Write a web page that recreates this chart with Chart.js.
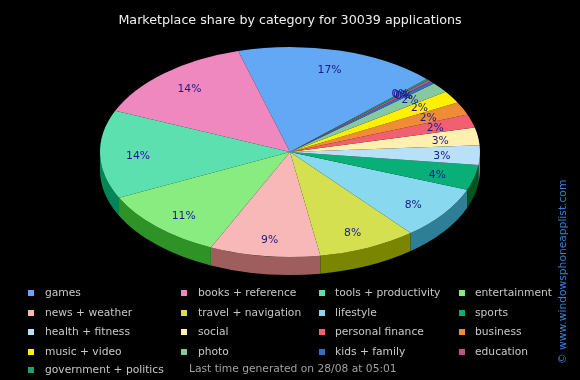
<!DOCTYPE html>
<html>
<head>
<meta charset="utf-8">
<script src="https://cdn.jsdelivr.net/npm/chart.js@4.4.0/dist/chart.umd.min.js"></script>
<style>
  body { margin: 0; background: #000; }
  #wrap { width: 580px; height: 380px; }
</style>
</head>
<body>
<div id="wrap"><canvas id="myChart"></canvas></div>
<script>
'use strict'

// Global variables:
const categories = [
  'games', 'books + reference', 'tools + productivity', 'entertainment',
  'news + weather', 'travel + navigation', 'lifestyle', 'sports',
  'health + fitness', 'social', 'personal finance', 'business',
  'music + video', 'photo', 'kids + family', 'education',
  'government + politics'
];
// share of apps per category (percent)
const shares = [17.2, 14.2, 13.6, 11.0, 9.4, 8.4, 8.2, 3.9, 3.0, 2.7, 2.1, 2.0, 1.9, 1.6, 0.4, 0.3, 0.2];
const sliceColors = [
  '#62a8f4', '#f088c0', '#5ce0b0', '#88ec80',
  '#f8b8b8', '#d4e050', '#88d8f0', '#08b078',
  '#b8e0f8', '#fff0b0', '#f06070', '#f08c38',
  '#fff000', '#88c8a0', '#3070c0', '#c05088',
  '#20a070'
];
const titleText = 'Marketplace share by category for 30039 applications';
const footerText = 'Last time generated on 28/08 at 05:01';
const creditText = '© www.windowsphoneapplist.com';

// where the flat pie sits on the page
const pieX = 290, pieY = 152, pieRX = 190, pieRY = 105, pieDepth = 18;
// ellipse the percent labels sit on
const labelY = 154, labelRX = 152, labelRY = 87;
const fontName = '"DejaVu Sans", Verdana, sans-serif';

function darker(hex, amount) {
  let n = parseInt(hex.slice(1), 16);
  let r = Math.max(0, ((n >> 16) & 255) - amount);
  let g = Math.max(0, ((n >> 8) & 255) - amount);
  let b = Math.max(0, (n & 255) - amount);
  return `rgb(${r},${g},${b})`;
}

const pie3d = {
  id: 'pie3d',
  beforeDatasetsDraw(chart) {
    const ctx = chart.ctx;
    const arcs = chart.getDatasetMeta(0).data;
    // side wall, only the front half shows
    arcs.forEach((arc, i) => {
      let a1 = Math.PI - arc.endAngle;
      let a2 = Math.PI - arc.startAngle;
      for (let k = -2; k <= 2; k++) {
        let lo = Math.max(a1, 2 * Math.PI * k);
        let hi = Math.min(a2, 2 * Math.PI * k + Math.PI);
        if (hi <= lo) continue;
        ctx.beginPath();
        ctx.ellipse(pieX, pieY, pieRX, pieRY, 0, lo, hi);
        ctx.ellipse(pieX, pieY + pieDepth, pieRX, pieRY, 0, hi, lo, true);
        ctx.closePath();
        ctx.fillStyle = darker(sliceColors[i], 90);
        ctx.fill();
      }
    });
    // squash the round pie into the ellipse (mirrored so slices run anticlockwise)
    const first = arcs[0];
    ctx.save();
    ctx.translate(pieX, pieY);
    ctx.scale(-pieRX / first.outerRadius, pieRY / first.outerRadius);
    ctx.translate(-first.x, -first.y);
  },
  afterDatasetsDraw(chart) {
    const ctx = chart.ctx;
    ctx.restore();
    const arcs = chart.getDatasetMeta(0).data;
    const total = shares.reduce((a, b) => a + b, 0);
    ctx.save();
    ctx.font = '10.8px ' + fontName;
    ctx.fillStyle = '#1a1a90';
    ctx.textAlign = 'center';
    ctx.textBaseline = 'middle';
    arcs.forEach((arc, i) => {
      let t = Math.PI - (arc.startAngle + arc.endAngle) / 2;
      let x = pieX + labelRX * Math.cos(t);
      let y = labelY + labelRY * Math.sin(t);
      ctx.fillText(Math.round(shares[i] / total * 100) + '%', x, y);
    });
    ctx.restore();
  },
  afterDraw(chart) {
    const ctx = chart.ctx;
    const boxX = [28, 181, 319, 459];
    const textX = [45, 198, 335, 475];
    const rowY = [293, 313, 332, 352, 370];
    ctx.save();
    ctx.font = '10.7px ' + fontName;
    ctx.textBaseline = 'middle';
    ctx.textAlign = 'left';
    categories.forEach((name, i) => {
      let col = i % 4;
      let row = Math.floor(i / 4);
      ctx.fillStyle = sliceColors[i];
      ctx.fillRect(boxX[col], rowY[row] - 3, 6, 6);
      ctx.fillStyle = '#c8c8c8';
      ctx.fillText(name, textX[col], rowY[row]);
    });
    ctx.fillStyle = '#a0a0a0';
    ctx.fillText(footerText, 189, 369);
    // credit up the right side
    ctx.translate(563, 364);
    ctx.rotate(-Math.PI / 2);
    ctx.fillStyle = '#3a80d0';
    ctx.fillText(creditText, 0, 0);
    ctx.restore();
  }
};

const data = {
  labels: categories,
  datasets: [{
    data: shares,
    backgroundColor: sliceColors,
    borderWidth: 0,
    clip: false
  }]
};

const config = {
  type: 'pie',
  data: data,
  options: {
    responsive: true,
    maintainAspectRatio: false,
    animation: false,
    rotation: 314,
    layout: { padding: { top: 10, bottom: 100, left: 100, right: 100 } },
    plugins: {
      legend: { display: false },
      tooltip: { enabled: false },
      title: {
        display: true,
        text: titleText,
        color: '#f0f0f0',
        font: { family: fontName, size: 12.7, weight: 'normal' },
        padding: { top: 3, bottom: 10 }
      }
    }
  },
  plugins: [pie3d]
};

let canvasChart = document.getElementById('myChart');
const myChart = new Chart(canvasChart, config);
</script>
</body>
</html>
